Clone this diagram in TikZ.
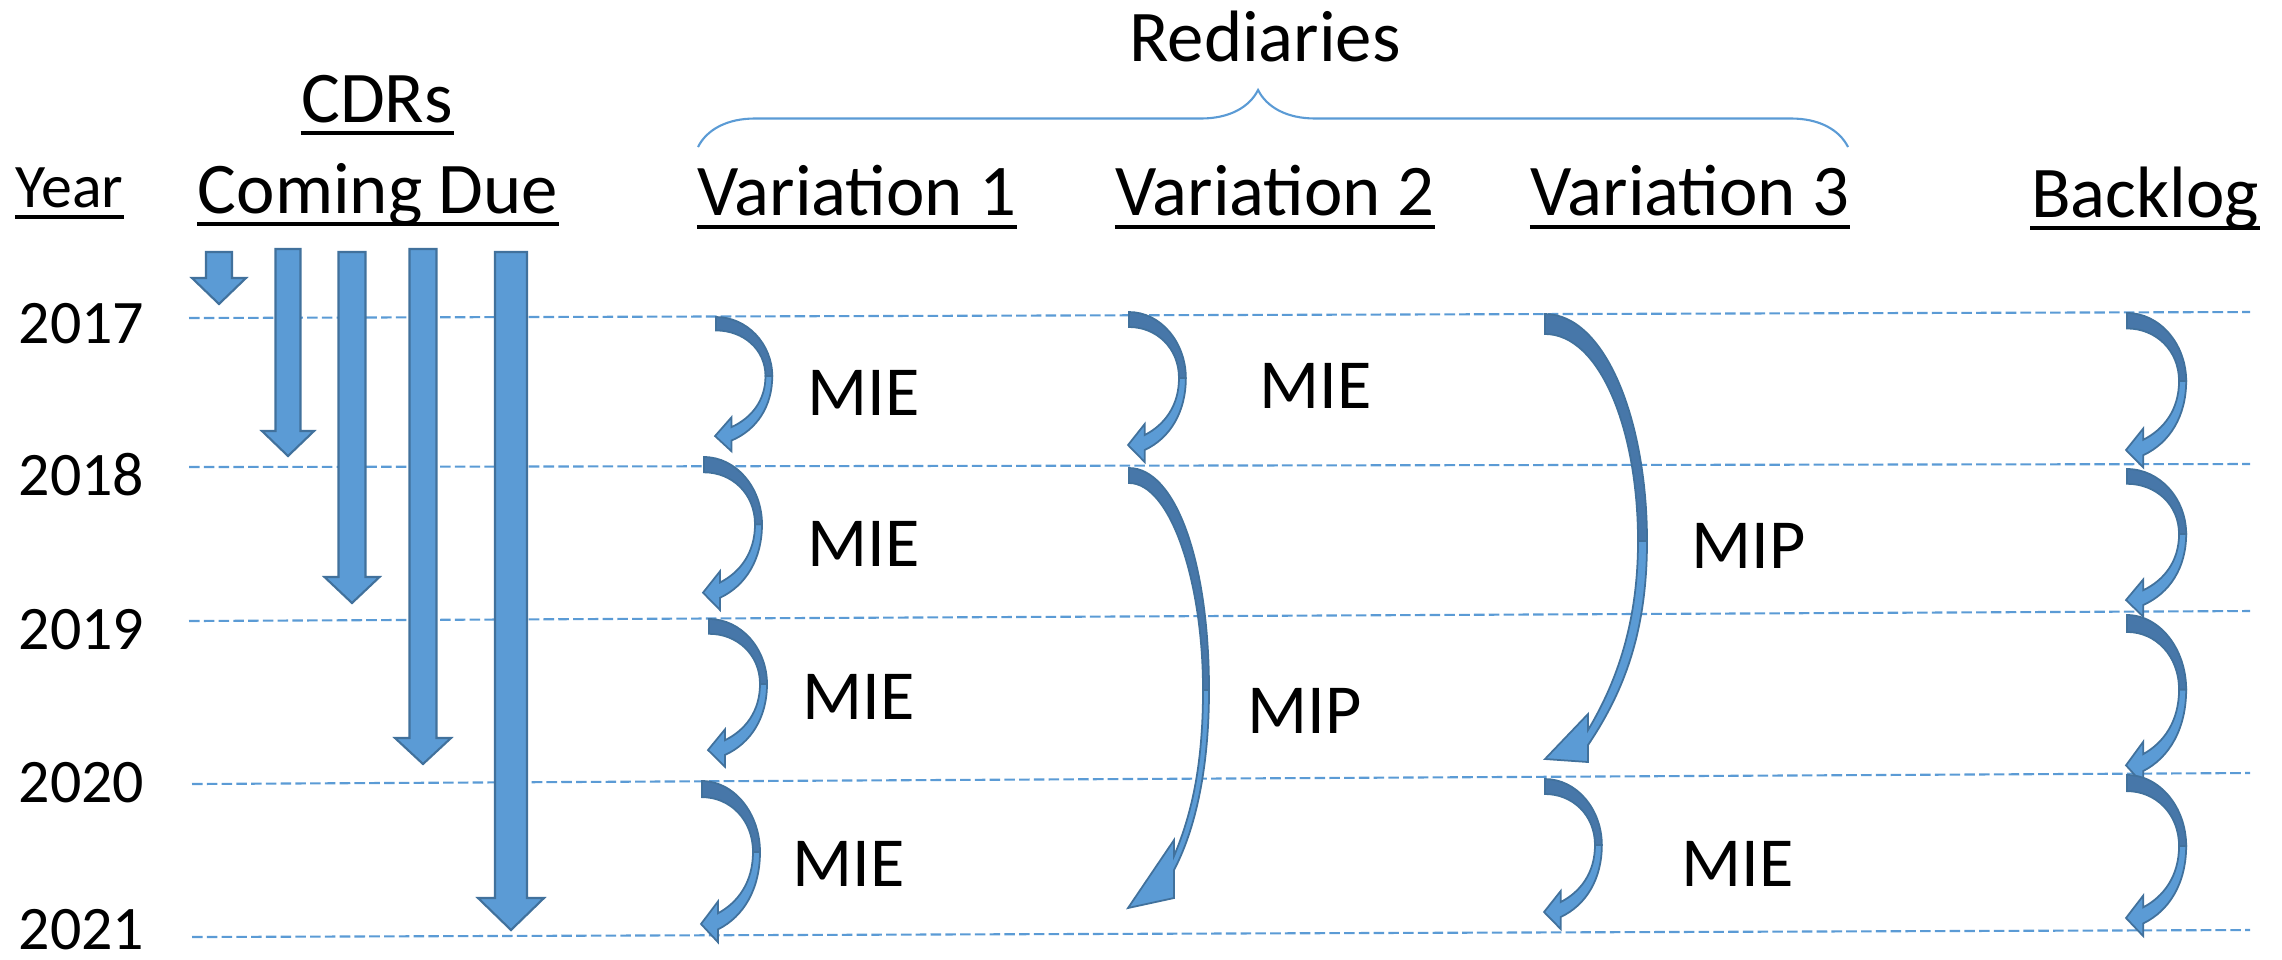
\documentclass[tikz,border=0pt]{standalone}
\usepackage{fontspec}
\setmainfont{Carlito}
\usetikzlibrary{decorations.pathreplacing}

\definecolor{lineblue}{HTML}{5B9BD5}
\definecolor{edgeblue}{HTML}{41719C}
\definecolor{backblue}{HTML}{4777A9}

\tikzset{
  hdr/.style={font=\fontsize{20.7}{24}\selectfont, inner sep=0pt, anchor=base},
  tag/.style={font=\fontsize{20}{24}\selectfont, inner sep=0pt, anchor=base west},
  yr/.style={font=\fontsize{17.6}{21}\selectfont, inner sep=0pt, anchor=base west},
  uline/.style={line width=1.1pt},
  guide/.style={lineblue, dash pattern=on 3pt off 1.2pt, line width=0.6pt},
  duebar/.style={fill=lineblue, draw=edgeblue, line width=0.6pt},
  frontpart/.style={fill=lineblue, draw=edgeblue, line width=0.5pt},
  backpart/.style={fill=backblue, draw=edgeblue, line width=0.5pt},
}

% block arrow: x, top, tip, shaft half, head half, head length
\newcommand{\duearrow}[6]{%
  \filldraw[duebar] ({#1-#4},#2) -- ({#1+#4},#2) -- ({#1+#4},{#3-#6}) -- ({#1+#5},{#3-#6})
    -- (#1,#3) -- ({#1-#5},{#3-#6}) -- ({#1-#4},{#3-#6}) -- cycle;}

% curved arrow: tail x, tail y, xscale, yscale
\newcommand{\bendarrow}[4]{%
  \begin{scope}[shift={(#1,#2)}, xscale=#3, yscale=#4]
    \filldraw[frontpart] (58,66) .. controls (58,100) and (42,126) .. (16,138) -- (16,150) -- (-1,133)
      -- (16,112) -- (16,123) .. controls (36,113) and (51,94) .. (51,66) -- cycle;
    \filldraw[backpart] (0,0) .. controls (32,0) and (58,30) .. (58,66) -- (51,66)
      .. controls (51,36) and (28,15) .. (0,15) -- cycle;
  \end{scope}}

\begin{document}
\begin{tikzpicture}[x=0.01cm, y=-0.01cm]
  \useasboundingbox (0,0) rectangle (2282,959);

  % year grid
  \coordinate (l17) at (189,318); \coordinate (r17) at (2250,312);
  \coordinate (l18) at (189,467); \coordinate (r18) at (2250,464);
  \coordinate (l19) at (189,621); \coordinate (r19) at (2250,611);
  \coordinate (l20) at (192,784); \coordinate (r20) at (2250,773);
  \coordinate (l21) at (192,937); \coordinate (r21) at (2250,930);
  \draw[guide] (l17) -- (r17);
  \draw[guide] (l18) -- (r18);
  \draw[guide] (l19) -- (r19);
  \draw[guide] (l20) -- (r20);
  \draw[guide] (l21) -- (r21);

  \node[yr] (y17) at (18,343) {2017};
  \node[yr] (y18) at (18,495) {2018};
  \node[yr] (y19) at (18,649) {2019};
  \node[yr] (y20) at (18,802) {2020};
  \node[yr] (y21) at (18,949) {2021};

  % headers
  \node[hdr] (redi) at (1265,61) {Rediaries};
  \coordinate (bl) at (698,147);
  \coordinate (br) at (1848,147);
  \draw[lineblue, line width=0.6pt, decorate, decoration={brace, amplitude=0.57cm, aspect=0.487}] (bl) -- (br);

  \node[yr] (year) at (15,207) {Year};
  \node[hdr] (cdrs) at (377,122) {CDRs};
  \node[hdr] (due) at (378,213) {Coming Due};
  \node[hdr] (var1) at (857,215) {Variation 1};
  \node[hdr] (var2) at (1275,215) {Variation 2};
  \node[hdr] (var3) at (1690,215) {Variation 3};
  \node[hdr] (back) at (2145,217) {Backlog};

  \draw[uline] ([yshift=-0.10cm]year.base west) -- ([yshift=-0.10cm]year.base east);
  \draw[uline] ([yshift=-0.11cm]cdrs.base west) -- ([yshift=-0.11cm]cdrs.base east);
  \draw[uline] ([yshift=-0.11cm]due.base west) -- ([yshift=-0.11cm]due.base east);
  \draw[uline] ([yshift=-0.12cm]var1.base west) -- ([yshift=-0.12cm]var1.base east);
  \draw[uline] ([yshift=-0.12cm]var2.base west) -- ([yshift=-0.12cm]var2.base east);
  \draw[uline] ([yshift=-0.12cm]var3.base west) -- ([yshift=-0.12cm]var3.base east);
  \draw[uline] ([yshift=-0.11cm]back.base west) -- ([yshift=-0.11cm]back.base east);

  % CDRs coming due
  \duearrow{219}{252}{304}{13}{27}{26}
  \duearrow{288}{249}{456}{12.5}{26}{25}
  \duearrow{352}{252}{603}{13.5}{27.5}{26}
  \duearrow{423}{249}{764}{13.5}{28}{26}
  \duearrow{511}{252}{930}{16}{33}{32}

  % variation 1
  \bendarrow{716}{317}{0.97}{0.895}
  \bendarrow{704}{457}{1}{1.02}
  \bendarrow{709}{619}{1}{0.985}
  \bendarrow{702}{781}{1}{1.075}
  \node[tag] (mie1) at (807,415) {MIE};
  \node[tag] (mie2) at (807,566) {MIE};
  \node[tag] (mie3) at (802,719) {MIE};
  \node[tag] (mie4) at (792,886) {MIE};

  % variation 2
  \bendarrow{1129}{312}{0.98}{1}
  \filldraw[frontpart] (1209,690) .. controls (1209,770) and (1195,830) .. (1174,870) -- (1174,898) -- (1128,908)
    -- (1174,840) -- (1174,856) .. controls (1190,818) and (1203,770) .. (1203,690) -- cycle;
  \filldraw[backpart] (1129,468) .. controls (1175,468) and (1209,560) .. (1209,690) -- (1203,690)
    .. controls (1203,580) and (1170,483) .. (1129,483) -- cycle;
  \node[tag] (mie5) at (1259,408) {MIE};
  \node[tag] (mip1) at (1247,733) {MIP};

  % variation 3
  \filldraw[frontpart] (1647,541) .. controls (1647,630) and (1625,690) .. (1588,745) -- (1588,762) -- (1545,759)
    -- (1588,714) -- (1588,730) .. controls (1618,680) and (1638,620) .. (1638,541) -- cycle;
  \filldraw[backpart] (1545,314) .. controls (1605,314) and (1647,420) .. (1647,541) -- (1638,541)
    .. controls (1638,430) and (1600,334) .. (1545,334) -- cycle;
  \bendarrow{1545}{779}{0.98}{1}
  \node[tag] (mip2) at (1691,568) {MIP};
  \node[tag] (mie6) at (1681,886) {MIE};

  % backlog
  \bendarrow{2127}{313}{1.02}{1.03}
  \bendarrow{2127}{469}{1.02}{0.985}
  \bendarrow{2127}{615}{1.02}{1.13}
  \bendarrow{2127}{775}{1.02}{1.075}
\end{tikzpicture}
\end{document}
